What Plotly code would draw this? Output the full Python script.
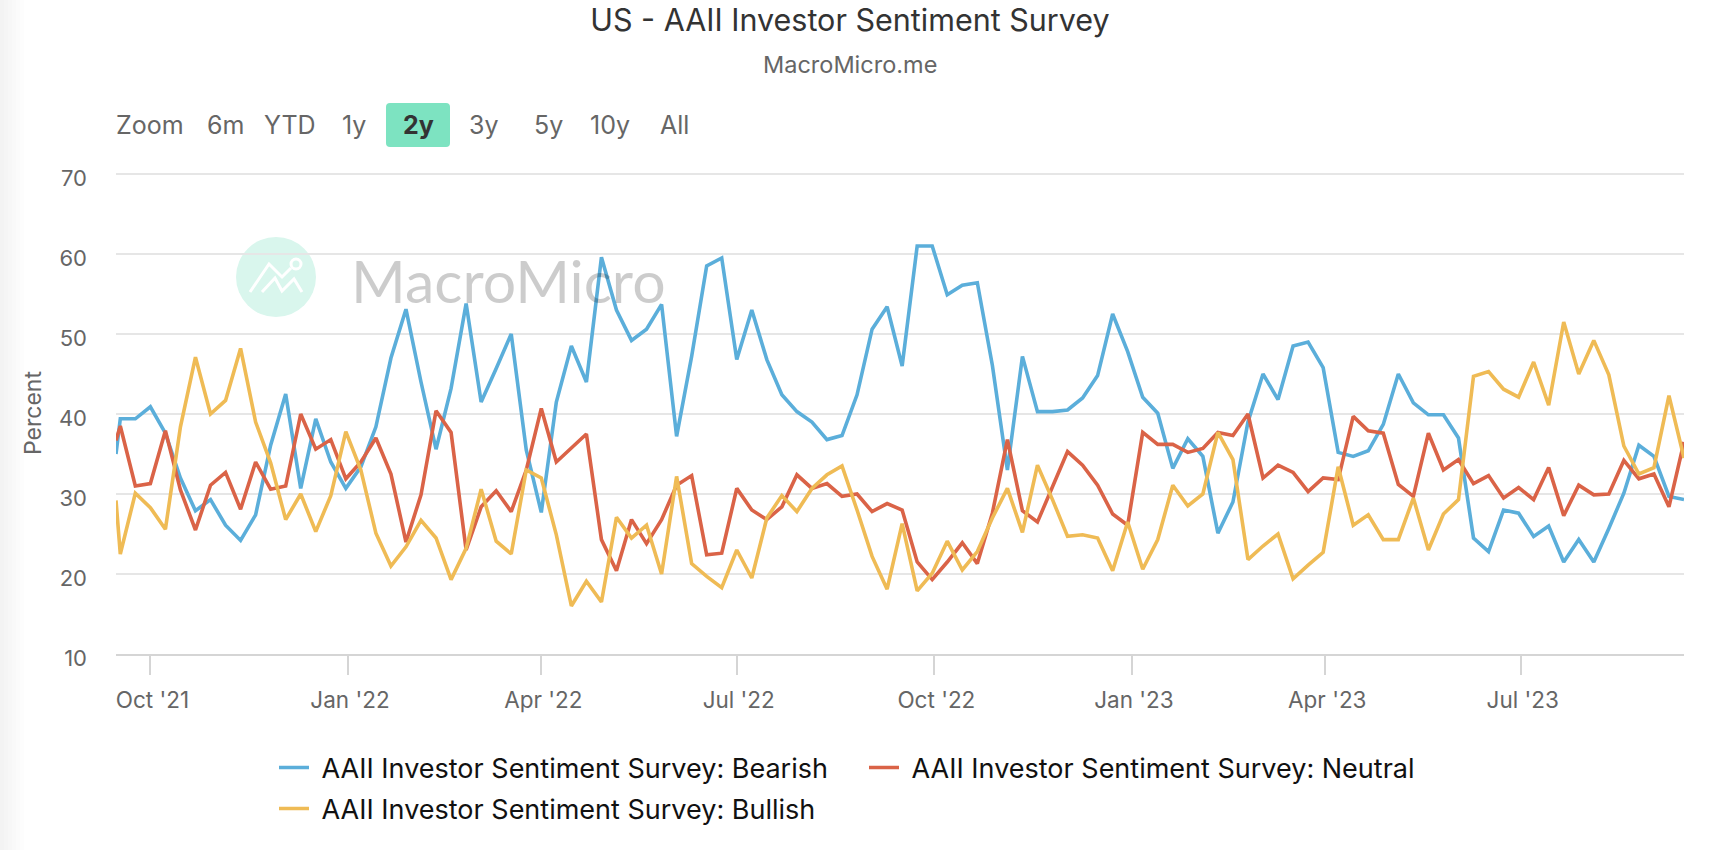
import plotly.graph_objects as go
import pandas as pd

EDGE_DATE = "2021-09-15"
START_DATE = "2021-09-17"
SERIES_NAMES = ["AAII Investor Sentiment Survey: Bearish",
                "AAII Investor Sentiment Survey: Neutral",
                "AAII Investor Sentiment Survey: Bullish"]

bearish = [35.0,
    39.4, 39.4, 40.9, 37.6, 32.0, 27.9, 29.3, 26.1, 24.2, 27.4, 36.1, 42.5, 30.7, 39.4, 34.0, 30.7, 33.4, 38.4, 47.0, 53.1,
    44.0, 35.6, 43.2, 53.8, 41.5, 45.7, 50.0,
    35.5, 27.7, 41.5, 48.5, 44.0, 59.6, 53.0, 49.2, 50.6, 53.7, 37.2, 47.2, 58.5, 59.5, 46.8, 53.0, 46.8, 42.4, 40.3, 39.0,
    36.8, 37.3, 42.4, 50.6, 53.4, 46.0,
    61.0, 61.0, 54.9, 56.1, 56.4, 46.1, 33.0, 47.2, 40.3, 40.3, 40.5, 42.0, 44.8, 52.5, 47.8, 42.1, 40.1, 33.2, 36.9, 34.7,
    25.1, 29.0, 39.0, 45.0, 41.8, 48.5,
    49.0, 45.8, 35.2, 34.7, 35.4, 38.7, 45.0, 41.4, 39.9, 39.9, 37.0, 24.5, 22.8, 28.0, 27.6, 24.7, 26.0, 21.5, 24.3, 21.5,
    25.7, 30.1, 36.1, 34.7, 29.7, 29.3]
neutral = [36.7,
    38.5, 31.0, 31.3, 37.9, 30.5, 25.5, 31.1, 32.7, 28.1, 34.0, 30.6, 31.0, 40.0, 35.6, 36.8, 31.9, 34.0, 37.0, 32.5, 24.0,
    29.9, 40.4, 37.7, 23.0, 28.4, 30.4, 27.8,
    33.0, 40.7, 34.0, 35.8, 37.5, 24.3, 20.4, 26.8, 23.8, 26.8, 31.1, 32.3, 22.4, 22.6, 30.7, 28.0, 26.8, 28.4, 32.4, 30.7,
    31.3, 29.7, 30.0, 27.8, 28.8, 28.0,
    21.5, 19.3, 21.5, 23.9, 21.3, 27.6, 36.8, 27.9, 26.5, 30.9, 35.3, 33.6, 31.1, 27.5, 26.1, 37.7, 36.2, 36.2, 35.2, 35.7,
    37.7, 37.3, 40.0, 32.0, 33.6, 32.7,
    30.3, 32.0, 31.8, 39.7, 37.9, 37.6, 31.2, 29.7, 37.6, 33.0, 34.3, 31.3, 32.3, 29.5, 30.8, 29.3, 33.3, 27.3, 31.1, 29.9,
    30.0, 34.2, 31.9, 32.5, 28.4, 36.5]
bullish = [29.2,
    22.5, 30.1, 28.3, 25.6, 38.4, 47.1, 40.0, 41.7, 48.2, 39.0, 33.9, 26.8, 30.0, 25.3, 29.8, 37.8, 33.0, 25.1, 21.0, 23.4,
    26.7, 24.5, 19.3, 23.2, 30.6, 24.1, 22.5,
    33.0, 32.0, 24.9, 16.0, 19.1, 16.5, 27.1, 24.5, 26.1, 20.0, 32.2, 21.3, 19.7, 18.3, 23.0, 19.5, 27.0, 29.8, 27.8, 30.7,
    32.4, 33.5, 28.0, 22.2, 18.1, 26.3,
    17.9, 20.1, 24.1, 20.5, 22.8, 27.0, 30.7, 25.2, 33.6, 29.3, 24.7, 24.9, 24.5, 20.4, 26.5, 20.6, 24.3, 31.1, 28.5, 30.0,
    37.7, 34.3, 21.8, 23.5, 25.0, 19.4,
    21.1, 22.7, 33.4, 26.1, 27.4, 24.3, 24.3, 29.5, 23.0, 27.5, 29.3, 44.7, 45.3, 43.1, 42.1, 46.5, 41.1, 51.5, 45.0, 49.2,
    44.9, 36.0, 32.5, 33.3, 42.3, 34.5]
colors = ["#5BAEDA", "#DA6347", "#EFBB55"]

tick_dates = ["2021-10-01", "2022-01-01", "2022-04-01", "2022-07-01",
              "2022-10-01", "2023-01-01", "2023-04-01", "2023-07-01"]
tick_labels = ["Oct '21", "Jan '22", "Apr '22", "Jul '22",
               "Oct '22", "Jan '23", "Apr '23", "Jul '23"]
y_ticks = [10, 20, 30, 40, 50, 60, 70]
buttons = ["Zoom", "6m", "YTD", "1y", "2y", "3y", "5y", "10y", "All"]
button_centers = [150, 225, 290, 354, 418, 484, 548, 610, 674]

W, H = 1716, 850
L, R, T, B = 116, 1684, 170, 654
FONT = "Inter"

weekly = pd.date_range(START_DATE, periods=len(bearish) - 1, freq="7D")
dates = [pd.Timestamp(EDGE_DATE)] + list(weekly)
fig = go.Figure()
for i, (name, vals, col) in enumerate(zip(SERIES_NAMES, [bearish, neutral, bullish], colors)):
    fig.add_trace(go.Scatter(x=dates, y=vals, name="\u00a0" + name, mode="lines",
                             legend="legend2" if i == 2 else "legend",
                             line=dict(color=col, width=3.6), hoverinfo="x+y"))

def pxx(x): return (x - L) / (R - L)
def pyy(y): return (B - y) / (B - T)

shapes = []
# soft shade down the left page edge
for i, c in enumerate(["#F3F3F3", "#F5F5F5", "#F7F7F7", "#F9F9F9", "#FBFBFB", "#FDFDFD"]):
    shapes.append(dict(type="rect", xref="paper", yref="paper", layer="below", line_width=0,
                       fillcolor=c, x0=pxx(i * 4), x1=pxx((i + 1) * 4), y0=pyy(H), y1=pyy(0)))

# active range button with rounded corners
bx0, bx1, by0, by1, rad = 386, 450, 103, 147, 4
btn = (f"M{pxx(bx0 + rad):.5f},{pyy(by0):.5f} L{pxx(bx1 - rad):.5f},{pyy(by0):.5f} "
       f"Q{pxx(bx1):.5f},{pyy(by0):.5f} {pxx(bx1):.5f},{pyy(by0 + rad):.5f} "
       f"L{pxx(bx1):.5f},{pyy(by1 - rad):.5f} Q{pxx(bx1):.5f},{pyy(by1):.5f} {pxx(bx1 - rad):.5f},{pyy(by1):.5f} "
       f"L{pxx(bx0 + rad):.5f},{pyy(by1):.5f} Q{pxx(bx0):.5f},{pyy(by1):.5f} {pxx(bx0):.5f},{pyy(by1 - rad):.5f} "
       f"L{pxx(bx0):.5f},{pyy(by0 + rad):.5f} Q{pxx(bx0):.5f},{pyy(by0):.5f} {pxx(bx0 + rad):.5f},{pyy(by0):.5f} Z")
shapes.append(dict(type="path", xref="paper", yref="paper", layer="below", line_width=0,
                   fillcolor="#7DE3C1", path=btn))
# watermark logo
shapes.append(dict(type="circle", xref="paper", yref="paper", layer="below", line_width=0,
                   fillcolor="#D9F6ED", x0=pxx(236), x1=pxx(316), y0=pyy(317), y1=pyy(237)))
for pts in [[(250, 292), (269, 264), (282, 277), (291, 268)],
            [(262, 292), (275, 278), (282, 291), (294, 279), (302, 292)]]:
    path = "M" + " L".join(f"{pxx(a):.5f},{pyy(b):.5f}" for a, b in pts)
    shapes.append(dict(type="path", xref="paper", yref="paper", layer="below",
                       line=dict(color="white", width=3), path=path))
shapes.append(dict(type="circle", xref="paper", yref="paper", layer="below",
                   line=dict(color="white", width=3), fillcolor="rgba(0,0,0,0)",
                   x0=pxx(291), x1=pxx(301), y0=pyy(269), y1=pyy(259)))

annotations = [
    dict(text="MacroMicro.me", xref="paper", yref="paper", x=pxx(850), y=pyy(65), showarrow=False,
         xanchor="center", yanchor="middle", font=dict(family=FONT, size=23.5, color="#666666")),
    dict(text="MacroMicro", xref="paper", yref="paper", x=pxx(508), y=pyy(280), showarrow=False,
         xanchor="center", yanchor="middle", font=dict(family="Lato", size=59, color="rgba(0,0,0,0.2)")),
    dict(text="Percent", xref="paper", yref="paper", x=pxx(33), y=pyy(413), showarrow=False, textangle=-90,
         xanchor="center", yanchor="middle", font=dict(family=FONT, size=23, color="#666666")),
]
for lab, cx in zip(buttons, button_centers):
    active = lab == "2y"
    annotations.append(dict(text=f"<b>{lab}</b>" if active else lab, xref="paper", yref="paper",
                            x=pxx(cx), y=pyy(125), showarrow=False, xanchor="center", yanchor="middle",
                            font=dict(family=FONT, size=25, color="#333333" if active else "#666666")))

legend_common = dict(orientation="h", xanchor="left", yanchor="middle", bgcolor="rgba(0,0,0,0)",
                     font=dict(family=FONT, size=27, color="#111111"), itemwidth=30,
                     entrywidth=545, entrywidthmode="pixels", traceorder="normal")

fig.update_layout(
    width=W, height=H, autosize=False,
    margin=dict(l=L, r=W - R, t=T, b=H - B, pad=0),
    paper_bgcolor="white", plot_bgcolor="white",
    title=dict(text="US - AAII Investor Sentiment Survey", xref="container", yref="container",
               x=850 / W, y=1 - 20 / H, xanchor="center", yanchor="middle",
               font=dict(family=FONT, size=30.5, color="#333333")),
    xaxis=dict(type="date", range=["2021-09-15", "2023-09-15"], tickmode="array",
               tickvals=tick_dates, ticktext=tick_labels, showgrid=False, zeroline=False,
               showline=True, linecolor="#D5D5D5", linewidth=2,
               ticks="outside", ticklen=19, tickwidth=2, tickcolor="#D5D5D5",
               ticklabelstandoff=6, ticklabelshift=2,
               tickfont=dict(family=FONT, size=22.5, color="#666666")),
    yaxis=dict(range=[10, 70.5], tickmode="array", tickvals=y_ticks, ticktext=[str(v) for v in y_ticks],
               showgrid=True, gridcolor="#E6E6E6", gridwidth=2, zeroline=False, showline=False,
               ticks="", ticklabelstandoff=28, ticklabelshift=4,
               tickfont=dict(family=FONT, size=22, color="#666666")),
    legend=dict(x=pxx(274), y=pyy(768), **legend_common),
    legend2=dict(x=pxx(274), y=pyy(809), **legend_common),
    shapes=shapes, annotations=annotations,
)

fig.write_html("out.html", config={"displayModeBar": False},
               post_script="document.body.style.margin='0';document.body.style.overflow='hidden';")
